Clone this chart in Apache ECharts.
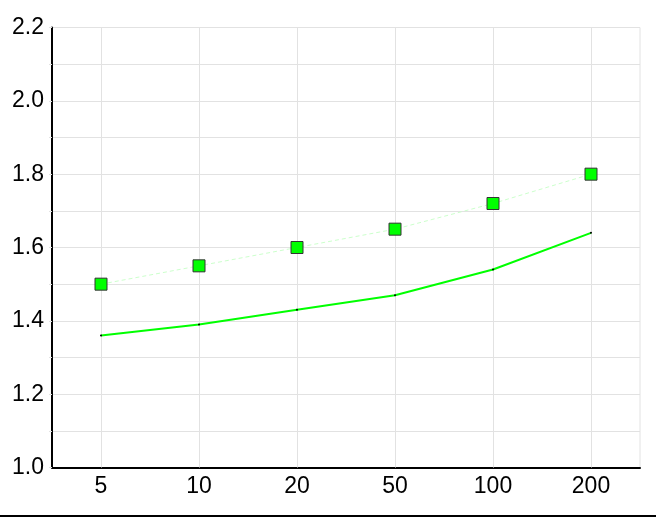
<!DOCTYPE html>
<html>
<head>
<meta charset="utf-8">
<script src="https://cdn.jsdelivr.net/npm/echarts@6/dist/echarts.min.js"></script>
<style>html,body{margin:0;padding:0;background:#fff;}#c{width:656px;height:517px;}</style>
</head>
<body>
<div id="c"></div>
<script>
var categories = ['5', '10', '20', '50', '100', '200'];
var markerSeries = [1.50, 1.55, 1.60, 1.65, 1.72, 1.80];
var lineSeries = [1.36, 1.39, 1.43, 1.47, 1.54, 1.64];
var yMin = 1.0, yMax = 2.2, yStep = 0.2;

var chart = echarts.init(document.getElementById('c'), null, {renderer: 'canvas'});
var font = 'Liberation Sans, Arial, sans-serif';
chart.setOption({
  animation: false,
  backgroundColor: '#fff',
  grid: {left: 52, right: 16, top: 27.5, bottom: 49.5, show: true, borderColor: '#e2e2e2', borderWidth: 1},
  xAxis: {
    type: 'category',
    data: categories,
    boundaryGap: true,
    axisLine: {lineStyle: {color: '#000', width: 2}},
    axisTick: {show: false},
    splitLine: {show: false},
    axisLabel: {color: '#000', fontSize: 23, fontFamily: font, margin: 8}
  },
  yAxis: {
    type: 'value',
    min: yMin, max: yMax, interval: yStep,
    axisLine: {show: true, lineStyle: {color: '#000', width: 2}},
    axisTick: {show: true, length: 3, lineStyle: {color: '#e2e2e2'}},
    minorTick: {show: true, splitNumber: 2, length: 3, lineStyle: {color: '#e2e2e2'}},
    splitLine: {show: true, lineStyle: {color: '#e2e2e2', width: 1}},
    minorSplitLine: {show: true, lineStyle: {color: '#e2e2e2', width: 1}},
    axisLabel: {color: '#000', fontSize: 23, fontFamily: font, margin: 8,
      formatter: function (v) { return v.toFixed(1); }}
  },
  series: [
    {
      type: 'line',
      data: markerSeries,
      symbol: 'rect',
      symbolSize: 12,
      itemStyle: {color: '#00ff00', borderColor: '#333', borderWidth: 1},
      lineStyle: {color: '#ccffcc', width: 1, type: [4, 3]},
      z: 3,
      markLine: {
        silent: true,
        symbol: ['none', 'none'],
        label: {show: false},
        lineStyle: {color: '#e2e2e2', width: 1, type: 'solid'},
        data: categories.map(function (c) { return {xAxis: c}; }),
        z: 1
      }
    },
    {
      type: 'line',
      data: lineSeries,
      symbol: 'circle',
      symbolSize: 2,
      itemStyle: {color: '#000'},
      lineStyle: {color: '#00ff00', width: 2},
      z: 2
    }
  ],
  graphic: [
    {type: 'line', shape: {x1: 0, y1: 516, x2: 656, y2: 516}, style: {stroke: '#000', lineWidth: 2}}
  ]
});
</script>
</body>
</html>
